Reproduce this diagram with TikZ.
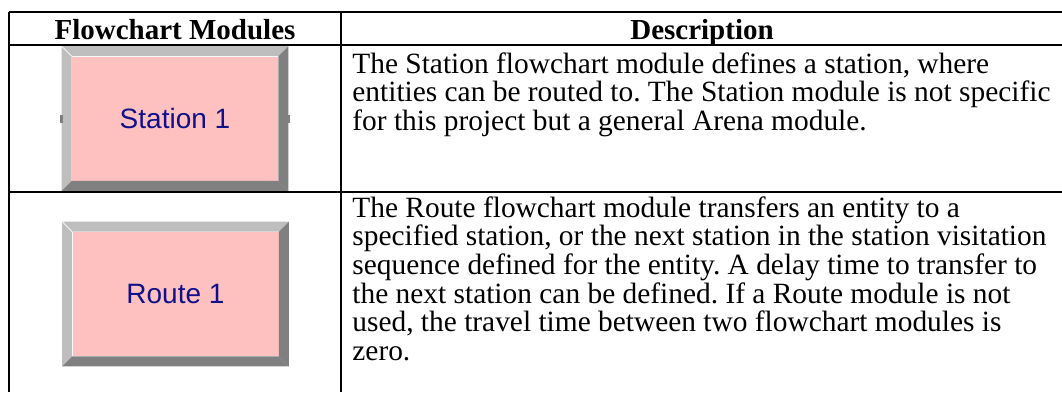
\documentclass[tikz,border=0pt]{standalone}
\usepackage{fontspec}
\setmainfont{Liberation Serif}
\newfontfamily\arenafont{Liberation Sans}
\usetikzlibrary{calc,positioning}
\definecolor{modpink}{HTML}{FFC0C0}
\definecolor{bevlight}{HTML}{BEBEBE}
\definecolor{bevdark}{HTML}{808080}
\definecolor{modtext}{HTML}{10108A}

\tikzset{
  module/.style={fill=modpink,text=modtext,inner sep=0pt,minimum width=103pt,minimum height=62pt,
    font=\arenafont\fontsize{14}{16}\selectfont},
  headcell/.style={anchor=base,inner sep=0pt,font=\fontsize{14.5}{16}\selectfont\bfseries},
  desccell/.style={anchor=north west,inner sep=0pt,align=left,font=\fontsize{14.7}{14.35}\selectfont\frenchspacing},
  rule/.style={line width=1pt,black}
}

\begin{document}
\begin{tikzpicture}[x=0.5pt,y=-0.5pt]
\useasboundingbox (0,0) rectangle (1062,392);

% table rules
\draw[rule] (8.5,12) -- (1062,12);
\draw[rule] (8.5,45) -- (1062,45);
\draw[rule] (8.5,192) -- (1062,192);
\draw[rule] (9,11.5) -- (9,392);
\draw[rule] (341,11.5) -- (341,392);

% header
\node[headcell] (hdmod) at (175,39) {Flowchart Modules};
\node[headcell] (hddesc) at (702,39) {Description};

% arena modules
\node[module] (st) at (175,118.5) {Station 1};
\node[module] (rt) at (175.5,294) {Route 1};
\foreach \m in {st,rt}{
  \fill[bevlight] ($(\m.north west)+(-10,-10)$) -- ($(\m.north east)+(10,-10)$) -- (\m.north east) -- (\m.north west) -- cycle;
  \fill[bevlight] ($(\m.north west)+(-10,-10)$) -- (\m.north west) -- (\m.south west) -- ($(\m.south west)+(-10,10)$) -- cycle;
  \fill[bevdark] ($(\m.south west)+(-10,10)$) -- (\m.south west) -- (\m.south east) -- ($(\m.south east)+(10,10)$) -- cycle;
  \fill[bevdark] ($(\m.north east)+(10,-10)$) -- ($(\m.south east)+(10,10)$) -- (\m.south east) -- (\m.north east) -- cycle;
  \draw[white!85!bevlight,line width=0.4pt] ($(\m.north west)+(-10,-10)$) -- (\m.north west);
}
% station connection points
\fill[bevdark] ($(st.west)+(-11.5,-4)$) rectangle ($(st.west)+(-9,4)$);
\fill[bevdark] ($(st.east)+(9,-4)$) rectangle ($(st.east)+(11.5,4)$);

% descriptions
\node[desccell] (dst) at (352,52) {The Station flowchart module defines a station, where\\
entities can be routed to. The Station module is not specific\\
for this project but a general Arena module.};
\node[desccell] (drt) at (352,196) {The Route flowchart module transfers an entity to a\\
specified station, or the next station in the station visitation\\
sequence defined for the entity. A delay time to transfer to\\
the next station can be defined. If a Route module is not\\
used, the travel time between two flowchart modules is\\
zero.};
\end{tikzpicture}
\end{document}
